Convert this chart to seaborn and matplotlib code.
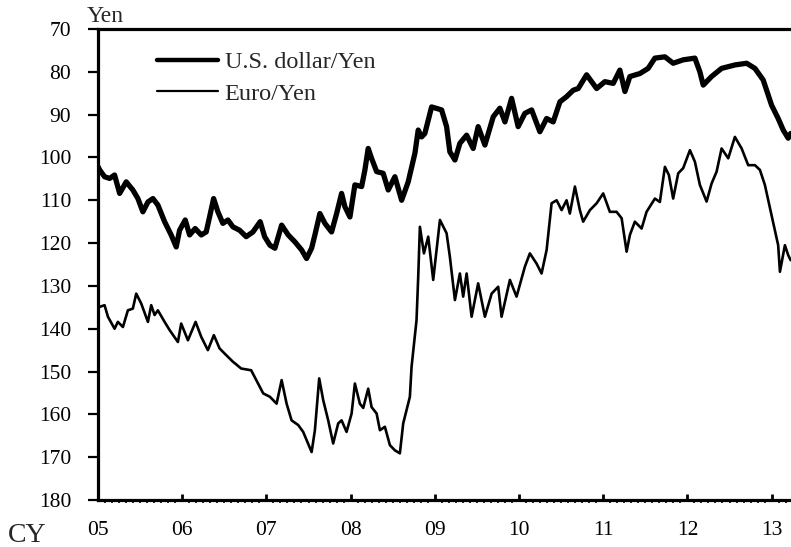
import matplotlib
matplotlib.use("Agg")
import matplotlib.pyplot as plt
import seaborn as sns
import pandas as pd
from matplotlib.ticker import FixedLocator, MultipleLocator

# ---------------- data ----------------
usd_t = [2005.002, 2005.019, 2005.078, 2005.138, 2005.197, 2005.257, 2005.335, 2005.414,
         2005.474, 2005.533, 2005.593, 2005.652, 2005.711, 2005.791, 2005.869, 2005.929,
         2005.969, 2006.036, 2006.088, 2006.154, 2006.226, 2006.285, 2006.325, 2006.373,
         2006.424, 2006.483, 2006.543, 2006.602, 2006.682, 2006.760, 2006.840, 2006.926,
         2006.979, 2007.042, 2007.101, 2007.181, 2007.259, 2007.338, 2007.418, 2007.477,
         2007.537, 2007.576, 2007.635, 2007.695, 2007.774, 2007.834, 2007.893, 2007.932,
         2007.992, 2008.051, 2008.131, 2008.170, 2008.209, 2008.249, 2008.309, 2008.387,
         2008.447, 2008.526, 2008.606, 2008.684, 2008.764, 2008.803, 2008.843, 2008.882,
         2008.962, 2009.081, 2009.140, 2009.179, 2009.239, 2009.298, 2009.378, 2009.456,
         2009.515, 2009.595, 2009.694, 2009.773, 2009.833, 2009.912, 2009.990, 2010.070,
         2010.150, 2010.248, 2010.328, 2010.406, 2010.486, 2010.565, 2010.644, 2010.703,
         2010.803, 2010.922, 2011.020, 2011.119, 2011.198, 2011.258, 2011.317, 2011.436,
         2011.534, 2011.614, 2011.733, 2011.831, 2011.950, 2012.089, 2012.148, 2012.188,
         2012.287, 2012.406, 2012.564, 2012.703, 2012.802, 2012.900, 2013.000, 2013.078,
         2013.138, 2013.197, 2013.226]
usd_yen = [102.2, 102.9, 104.5, 104.9, 104.1, 108.4, 105.7, 107.6,
           109.6, 112.7, 110.4, 109.6, 111.1, 115.0, 118.1, 120.9,
           117.0, 114.6, 118.1, 116.6, 118.1, 117.4, 113.9, 109.6,
           112.7, 115.4, 114.6, 116.2, 117.0, 118.5, 117.4, 115.0,
           118.5, 120.5, 121.2, 115.8, 118.1, 119.7, 121.6, 123.6,
           121.2, 118.1, 113.1, 115.4, 117.4, 113.1, 108.4, 111.5,
           113.9, 106.4, 106.8, 102.9, 97.9, 100.2, 103.3, 103.7,
           107.6, 104.5, 110.0, 105.7, 99.0, 93.6, 95.2, 94.4,
           88.2, 88.9, 92.8, 98.7, 100.6, 96.7, 94.8, 97.9,
           92.8, 97.1, 90.5, 88.5, 91.7, 86.2, 92.8, 89.7,
           88.9, 94.0, 90.9, 91.7, 87.0, 85.8, 84.3, 83.9,
           80.7, 83.9, 82.3, 82.7, 79.6, 84.6, 81.1, 80.4,
           79.2, 76.8, 76.5, 78.0, 77.2, 76.8, 80.0, 83.1,
           81.1, 79.2, 78.4, 78.0, 79.2, 81.9, 87.8, 90.9,
           93.6, 95.5, 94.4]

eur_t = [2005.019, 2005.078, 2005.118, 2005.197, 2005.236, 2005.296, 2005.355, 2005.414,
         2005.454, 2005.513, 2005.593, 2005.632, 2005.672, 2005.711, 2005.791, 2005.850,
         2005.949, 2005.988, 2006.068, 2006.159, 2006.226, 2006.305, 2006.376, 2006.444,
         2006.504, 2006.602, 2006.701, 2006.819, 2006.962, 2007.042, 2007.121, 2007.181,
         2007.240, 2007.299, 2007.378, 2007.437, 2007.477, 2007.537, 2007.576, 2007.627,
         2007.675, 2007.734, 2007.793, 2007.853, 2007.893, 2007.952, 2008.012, 2008.051,
         2008.110, 2008.150, 2008.209, 2008.249, 2008.309, 2008.348, 2008.407, 2008.467,
         2008.526, 2008.585, 2008.625, 2008.704, 2008.724, 2008.783, 2008.803, 2008.823,
         2008.871, 2008.922, 2008.981, 2009.061, 2009.140, 2009.179, 2009.239, 2009.298,
         2009.337, 2009.378, 2009.437, 2009.515, 2009.595, 2009.675, 2009.753, 2009.793,
         2009.892, 2009.971, 2010.070, 2010.129, 2010.209, 2010.268, 2010.328, 2010.387,
         2010.447, 2010.506, 2010.565, 2010.604, 2010.664, 2010.723, 2010.762, 2010.842,
         2010.922, 2011.000, 2011.079, 2011.159, 2011.219, 2011.278, 2011.317, 2011.376,
         2011.456, 2011.515, 2011.614, 2011.673, 2011.733, 2011.780, 2011.831, 2011.891,
         2011.950, 2012.030, 2012.089, 2012.148, 2012.228, 2012.287, 2012.347, 2012.406,
         2012.485, 2012.564, 2012.644, 2012.722, 2012.802, 2012.861, 2012.920, 2013.000,
         2013.078, 2013.099, 2013.158, 2013.197, 2013.226]
eur_yen = [134.9, 134.5, 137.2, 140.0, 138.4, 139.6, 135.7, 135.3,
           131.8, 134.1, 138.4, 134.5, 136.8, 135.7, 138.4, 140.3,
           143.1, 138.8, 142.7, 138.4, 141.9, 145.0, 141.5, 144.6,
           145.8, 147.7, 149.3, 149.7, 155.1, 155.9, 157.5, 152.0,
           157.5, 161.4, 162.5, 164.1, 166.0, 168.8, 163.7, 151.6,
           156.7, 161.4, 166.8, 162.1, 161.4, 164.1, 159.8, 152.8,
           157.5, 158.5, 154.0, 158.3, 159.8, 163.7, 162.9, 167.2,
           168.4, 169.1, 162.1, 155.9, 148.9, 138.0, 127.9, 116.2,
           122.4, 118.5, 128.6, 114.6, 117.7, 123.2, 133.3, 127.1,
           132.5, 127.1, 137.2, 129.4, 137.2, 131.8, 130.2, 137.2,
           128.6, 132.5, 125.5, 122.4, 124.8, 127.1, 121.6, 110.7,
           110.0, 112.3, 110.0, 113.1, 106.8, 112.3, 115.0, 112.3,
           110.7, 108.4, 112.7, 112.7, 114.2, 122.0, 118.1, 115.0,
           116.6, 112.7, 109.6, 110.4, 102.2, 104.1, 109.6, 103.7,
           102.5, 98.3, 101.0, 106.4, 110.3, 106.1, 103.3, 97.9,
           100.2, 95.2, 97.9, 101.8, 101.8, 102.9, 106.4, 113.5,
           120.5, 126.7, 120.5, 122.8, 124.0]

series_names = ["U.S. dollar/Yen", "Euro/Yen"]
year_ticks = [2005, 2006, 2007, 2008, 2009, 2010, 2011, 2012, 2013]
year_labels = ["05", "06", "07", "08", "09", "10", "11", "12", "13"]
y_ticks = [70, 80, 90, 100, 110, 120, 130, 140, 150, 160, 170, 180]

# ---------------- plotting ----------------
sns.set_style("ticks")
plt.rcParams["font.family"] = ["Liberation Serif", "DejaVu Serif"]

W, H = 791, 547
fig = plt.figure(figsize=(W / 100, H / 100), dpi=100)
ax = fig.add_axes([98 / W, 1 - 500 / H, 693 / W, 471 / H])

df_usd = pd.DataFrame({"t": usd_t, "v": usd_yen})
df_eur = pd.DataFrame({"t": eur_t, "v": eur_yen})
sns.lineplot(data=df_usd, x="t", y="v", ax=ax, color="black", lw=3.8,
             label=series_names[0], sort=False, solid_joinstyle="round")
sns.lineplot(data=df_eur, x="t", y="v", ax=ax, color="black", lw=1.9,
             label=series_names[1], sort=False, solid_joinstyle="round")

ax.set_xlim(2005, 2005 + 693 / 84.2)
ax.set_ylim(180, 70)
ax.set_xlabel("")
ax.set_ylabel("")

for s in ["left", "bottom", "top"]:
    ax.spines[s].set_linewidth(2.3)
    ax.spines[s].set_color("black")
ax.spines["right"].set_visible(False)

ax.yaxis.set_major_locator(FixedLocator(y_ticks))
ax.set_yticklabels([str(v) for v in y_ticks])
ax.xaxis.set_major_locator(FixedLocator(year_ticks))
ax.set_xticklabels(year_labels)
ax.xaxis.set_minor_locator(MultipleLocator(1 / 12))

ax.tick_params(axis="y", direction="out", length=7.2, width=1.6, pad=12,
               labelsize=15.5, colors="black")
ax.tick_params(axis="x", which="major", direction="in", length=4, width=2,
               pad=15, labelsize=15.5, colors="black")
ax.tick_params(axis="x", which="minor", direction="out", length=2.2, width=1.4)
ax.tick_params(top=False, right=False, which="both")

leg = ax.legend(loc="upper left", bbox_to_anchor=(157 / W, 1 - 51 / H),
                bbox_transform=fig.transFigure, frameon=False, fontsize=17.5,
                handlelength=2.5, handletextpad=0.28, labelspacing=0.4,
                borderpad=0, borderaxespad=0)
leg.get_lines()[0].set_linewidth(3.2)
leg.get_lines()[1].set_linewidth(1.6)

fig.text(87 / W, 1 - 22 / H, "Yen", fontsize=17, va="baseline", ha="left")
fig.text(8 / W, 1 - 542 / H, "CY", fontsize=20, va="baseline", ha="left")

fig.savefig("out.png", dpi=100)
